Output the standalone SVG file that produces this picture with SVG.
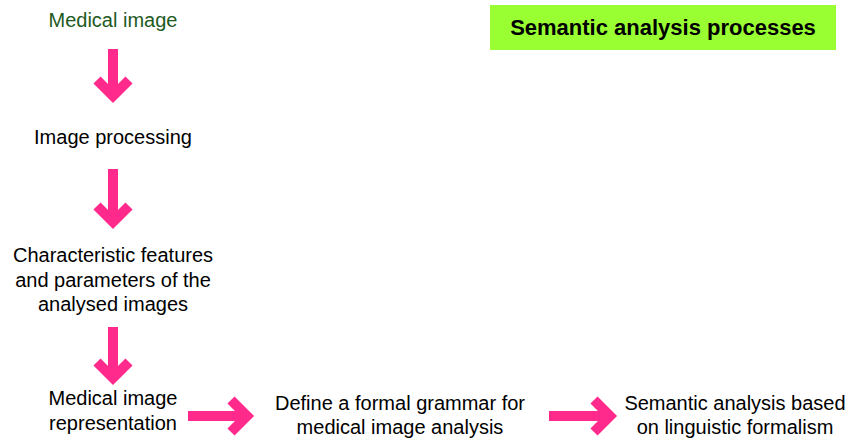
<svg xmlns="http://www.w3.org/2000/svg" width="850" height="438" viewBox="0 0 850 438">
<style>
.t{font-family:"Liberation Sans",Arial,sans-serif;font-size:20px;fill:#000;text-anchor:middle}
.g{fill:#1e5a1e}
.h{font-weight:bold;font-size:22px}
.a{fill:none;stroke:#ff2a8c;stroke-width:10}
</style>
<rect width="850" height="438" fill="#fff"/>
<g id="title">
<rect x="490" y="5" width="346" height="45" fill="#99ff33"/>
<text class="t h" x="663" y="35">Semantic analysis processes</text>
</g>
<g id="n1"><text class="t g" x="113" y="27">Medical image</text></g>
<g id="n2"><text class="t" x="113" y="144">Image processing</text></g>
<g id="n3"><text class="t" x="113" y="262">Characteristic features</text><text class="t" x="113" y="287">and parameters of the</text><text class="t" x="113" y="311">analysed images</text></g>
<g id="n4"><text class="t" x="113" y="405">Medical image</text><text class="t" x="113" y="430">representation</text></g>
<g id="n5"><text class="t" x="400" y="410">Define a formal grammar for</text><text class="t" x="400" y="434">medical image analysis</text></g>
<g id="n6"><text class="t" x="735" y="410">Semantic analysis based</text><text class="t" x="735" y="434">on linguistic formalism</text></g>
<g id="connectors">
<path class="a" d="M113 49V95M97 80L113 96L129 80"/>
<path class="a" d="M113 169V222M97 206L113 222L129 206"/>
<path class="a" d="M113 327V378M97 362L113 378L129 362"/>
<path class="a" d="M188 416H247M231 400L247 416L231 432"/>
<path class="a" d="M549 416H610M594 400L610 416L594 432"/>
</g>
</svg>
